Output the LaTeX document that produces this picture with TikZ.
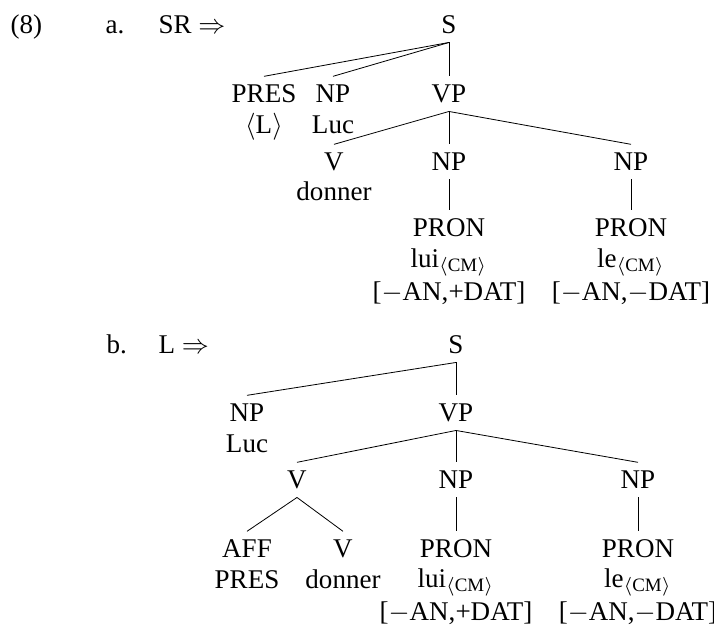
\documentclass[tikz,border=0pt]{standalone}
\usepackage{fontspec}
\setmainfont{Liberation Serif}
\usetikzlibrary{positioning}

\newcommand{\clitcm}{\textsubscript{$\langle$CM$\rangle$}}

\tikzset{
  cat/.style={inner xsep=0pt, inner ysep=0.8pt, text height=8.5pt, text depth=2.5pt, anchor=base},
  word/.style={inner sep=0pt, anchor=base},
  branch/.style={line width=0.3pt}
}

\begin{document}
\begin{tikzpicture}[x=0.37pt, y=-0.37pt]
\useasboundingbox (0,0) rectangle (714,628);

% (8a)
\node[word, anchor=base west] (exnum) at (10,33) {(8)};
\node[word, anchor=base west] (laba) at (105,33) {a.};
\node[word, anchor=base west] (ruleA) at (158,33) {SR $\Rightarrow$};
\node[cat] (Sa) at (449,33) {S};
\node[cat] (presA) at (264,102) {PRES};
\node[word] (presAL) at (264,133) {$\langle$L$\rangle$};
\node[cat] (npA) at (333,102) {NP};
\node[word] (lucA) at (333,133) {Luc};
\node[cat] (vpA) at (449,102) {VP};
\node[cat] (vA) at (334,170) {V};
\node[word] (donA) at (334,200) {donner};
\node[cat] (npAi) at (449,170) {NP};
\node[cat] (npAii) at (631,170) {NP};
\node[cat] (pronAi) at (449,236) {PRON};
\node[word] (luiA) at (449,267) {lui\clitcm};
\node[word] (featAi) at (449,300) {[$-$AN,+DAT]};
\node[cat] (pronAii) at (631,236) {PRON};
\node[word] (leA) at (631,267) {le\clitcm};
\node[word] (featAii) at (631,300) {[$-$AN,$-$DAT]};

\foreach \a/\b in {Sa/presA, Sa/npA, Sa/vpA, vpA/vA, vpA/npAi, vpA/npAii,
                   npAi/pronAi, npAii/pronAii}
  \draw[branch] (\a.south) -- (\b.north);

% (8b)
\node[word, anchor=base west] (labb) at (106,353) {b.};
\node[word, anchor=base west] (ruleB) at (158,353) {L $\Rightarrow$};
\node[cat] (Sb) at (456,353) {S};
\node[cat] (npB) at (247,421) {NP};
\node[word] (lucB) at (247,452) {Luc};
\node[cat] (vpB) at (456,421) {VP};
\node[cat] (vB) at (297,488) {V};
\node[cat] (npBi) at (456,488) {NP};
\node[cat] (npBii) at (638,488) {NP};
\node[cat] (affB) at (247,557) {AFF};
\node[word] (presB) at (247,588) {PRES};
\node[cat] (vBi) at (343,557) {V};
\node[word] (donB) at (343,588) {donner};
\node[cat] (pronBi) at (456,557) {PRON};
\node[word] (luiB) at (456,587) {lui\clitcm};
\node[word] (featBi) at (456,620) {[$-$AN,+DAT]};
\node[cat] (pronBii) at (638,557) {PRON};
\node[word] (leB) at (638,587) {le\clitcm};
\node[word] (featBii) at (638,620) {[$-$AN,$-$DAT]};

\foreach \a/\b in {Sb/npB, Sb/vpB, vpB/vB, vpB/npBi, vpB/npBii,
                   vB/affB, vB/vBi, npBi/pronBi, npBii/pronBii}
  \draw[branch] (\a.south) -- (\b.north);

\end{tikzpicture}
\end{document}
